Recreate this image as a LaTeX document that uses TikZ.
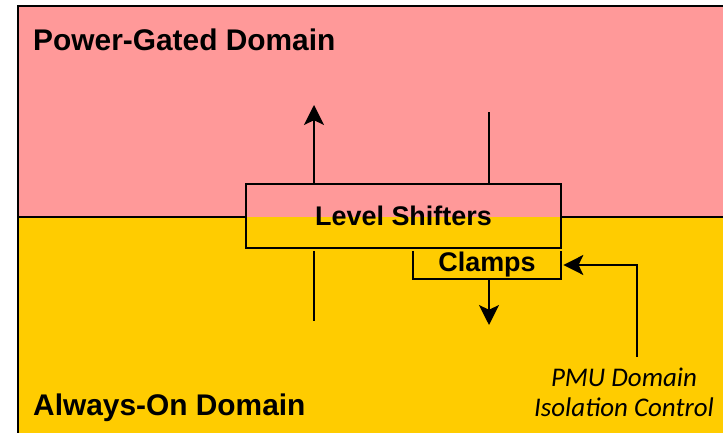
\documentclass[tikz,border=0pt]{standalone}
\usepackage{fontspec}
\usepackage{tikz}
\usetikzlibrary{positioning}
\usetikzlibrary{arrows.meta}
\usepackage{xcolor}
\newfontfamily\arialfont{Liberation Sans}
\newfontfamily\calfont{Carlito}
\definecolor{gatedpink}{HTML}{FF9999}
\definecolor{aonyellow}{HTML}{FFCC00}

\tikzset{
  wall/.style={line width=2pt},
  cell/.style={draw, line width=1.8pt, rectangle, inner sep=0pt, outer sep=0pt},
  sig/.style={line width=1.6pt, -{Stealth[length=17pt, width=17pt, inset=4pt]}},
  wire/.style={line width=1.6pt},
  domlabel/.style={anchor=west, inner sep=0pt, font=\arialfont\bfseries\fontsize{25.5}{30}\selectfont},
}

\begin{document}
\begin{tikzpicture}[x=0.03cm, y=-0.03cm]
            \useasboundingbox (0,0) rectangle (723,433);
            % Domain areas
            \fill[gatedpink] (18,6) rectangle (723,217);
            \fill[aonyellow] (18,217) rectangle (723,433);
            \draw[wall] (18,433) -- (18,6) -- (723,6);
            \node[domlabel] (pgd) at (33,40) {Power-Gated Domain};
            \node[domlabel] (aod) at (33,408) {Always-On Domain};

            % Level shifters and clamps
            \node[cell, minimum width=9.45cm, minimum height=1.92cm, font=\arialfont\bfseries\fontsize{23}{27}\selectfont] (ls) at (403.5,216) {Level Shifters};
            \node[inner sep=0pt, outer sep=0pt, minimum width=4.44cm, minimum height=0.84cm, font=\arialfont\bfseries\fontsize{23}{27}\selectfont] (clamps) at (487,265) {Clamps};
            \draw[cell] (clamps.north west) |- (clamps.south east) -- (clamps.north east);
            \coordinate (midl) at (18,217);
            \coordinate (midr) at (723,217);
            \draw[wall] (midl) -- (midl -| ls.west);
            \draw[wall] (midr -| ls.east) -- (midr);

            % Signals through the boundary
            \coordinate (upout) at (314,105);
            \coordinate (downin) at (489,112);
            \coordinate (lowin) at (314,321);
            \coordinate (clampout) at (489,325);
            \draw[sig] (ls.north -| upout) -- (upout);
            \draw[wire] (ls.north -| downin) -- (downin);
            \draw[wire] (clamps.north -| lowin) -- (lowin);
            \draw[sig] (clamps.south -| clampout) -- (clampout);

            % Isolation control from the PMU
            \node[align=center, font=\calfont\itshape\fontsize{23}{25.5}\selectfont] (pmu) at (624,392) {PMU Domain\\Isolation Control};
            \coordinate (ctl) at (637,357);
            \draw[sig, shorten >=2pt] (ctl) |- (clamps.east);
        \end{tikzpicture}
\end{document}
